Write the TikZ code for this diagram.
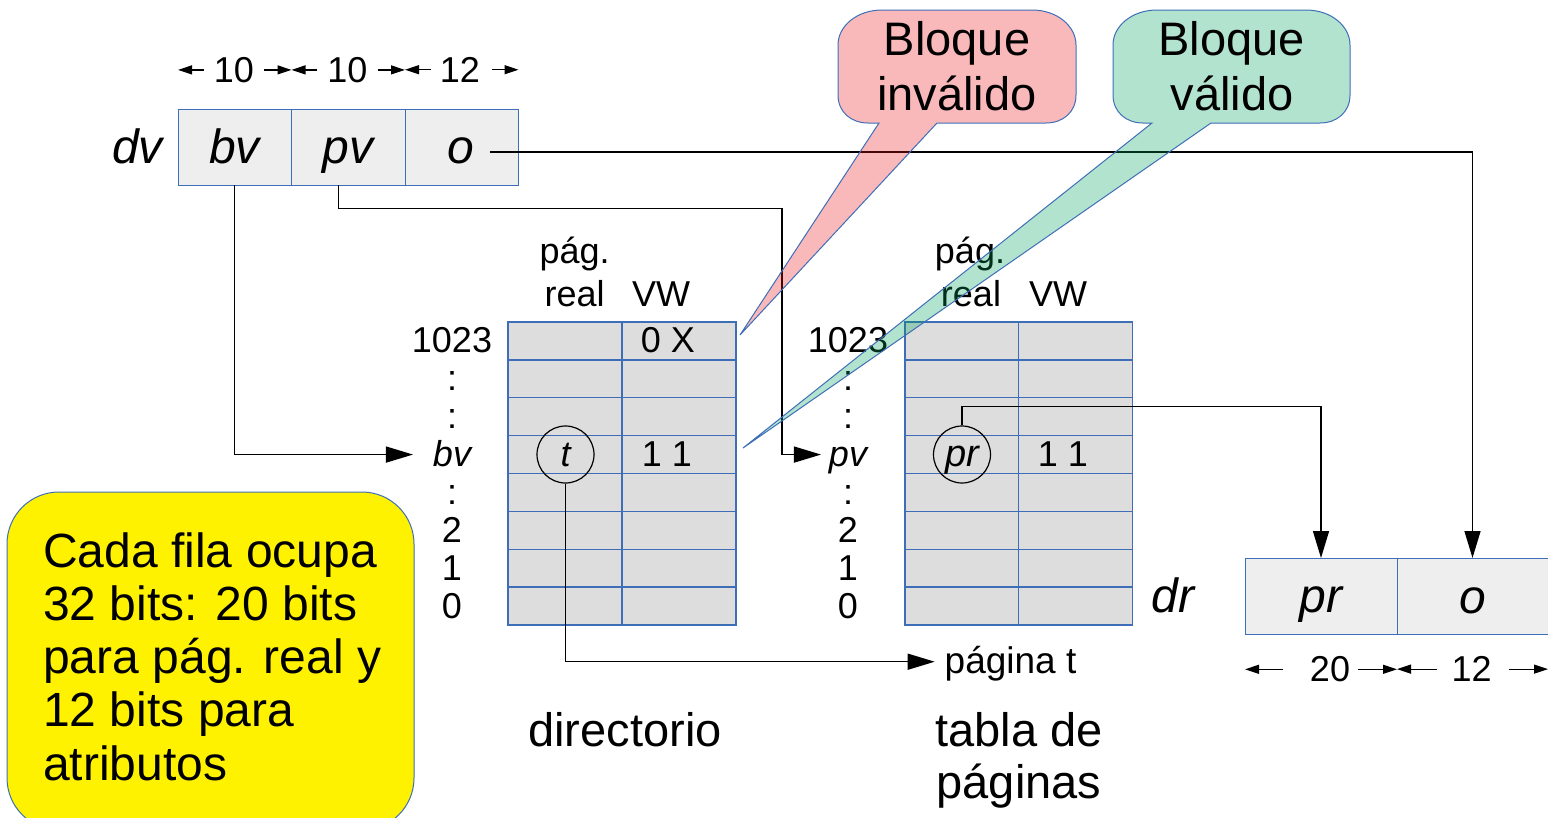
\documentclass[tikz,border=0pt]{standalone}
\usepackage{fontspec}
\setmainfont{Liberation Sans}
\usetikzlibrary{arrows.meta}

\definecolor{frame}{RGB}{62,110,183}
\definecolor{cellgray}{RGB}{221,221,221}
\definecolor{boxgray}{RGB}{238,238,238}
\definecolor{notered}{RGB}{235,22,28}
\definecolor{notegreen}{RGB}{0,162,92}
\definecolor{noteyellow}{RGB}{255,242,0}

\tikzset{
  txt/.style={inner sep=0pt, outer sep=0pt},
  fA/.style={font=\fontsize{36pt}{40pt}\selectfont},
  itA/.style={font=\fontsize{36pt}{40pt}\selectfont\itshape},
  fC/.style={font=\fontsize{47pt}{53pt}\selectfont},
  fN/.style={font=\fontsize{48pt}{53pt}\selectfont},
  itC/.style={font=\fontsize{48pt}{53pt}\selectfont\itshape},
  rowlbl/.style={txt, fA, text height=26pt, text depth=2pt},
  dvcell/.style={draw=frame, line width=1pt, fill=boxgray, minimum width=113.5pt,
                 minimum height=76pt, inner sep=0pt, outer sep=0pt},
  cell/.style={draw=frame, line width=1.3pt, fill=cellgray, minimum width=114pt,
               minimum height=37.875pt, inner sep=0pt, outer sep=0pt},
  circ/.style={circle, draw=black, line width=1.2pt, minimum size=57pt, inner sep=0pt,
               text height=26pt, text depth=2pt},
  conn/.style={line width=1.4pt, -{Triangle[length=27pt,width=16pt]}},
  dimarr/.style={line width=1.2pt, -{Triangle[length=14pt,width=9pt]}},
  callout/.style={draw=frame, line width=1pt, fill opacity=0.3},
}

\begin{document}
\begin{tikzpicture}[x=1pt, y=-1pt]
\useasboundingbox (0,0) rectangle (1548,817);
\clip (0,0) rectangle (1548,817);

% ---------- virtual address dv = bv | pv | o ----------
\node[dvcell] (bv) at (234.75,147) {};
\node[dvcell] (pv) at (348.25,147) {};
\node[dvcell] (o)  at (461.75,147) {};
\node[txt, itC, anchor=base] (bv-t) at (234.5,163) {bv};
\node[txt, itC, anchor=base] (pv-t) at (348,163) {pv};
\node[txt, itC, anchor=base] (o-t)  at (461,163) {o};
\node[txt, itC, anchor=base] (dv)   at (137.5,163) {dv};

% field widths
\node[txt, fA, anchor=base] (w1) at (234,82.3) {10};
\node[txt, fA, anchor=base] (w2) at (347.5,82.3) {10};
\node[txt, fA, anchor=base] (w3) at (460,82.3) {12};
\draw[dimarr, shorten <=10pt] (w1.west) -- (w1.west -| bv.west);
\draw[dimarr, shorten <=10pt] (w1.east) -- (w1.east -| bv.east);
\draw[dimarr, shorten <=10pt] (w2.west) -- (w2.west -| pv.west);
\draw[dimarr, shorten <=10pt] (w2.east) -- (w2.east -| pv.east);
\draw[dimarr, shorten <=9pt]  (w3.west) -- (w3.west -| o.west);
\draw[dimarr, shorten <=12pt] (w3.east) -- (w3.east -| o.east);

% ---------- directory and page table ----------
\foreach \r in {0,...,7} {
  \pgfmathsetmacro\yy{340.94+37.875*\r}
  \node[cell] (d-\r-0) at (565,\yy) {};
  \node[cell] (d-\r-1) at (679,\yy) {};
  \node[cell] (p-\r-0) at (962,\yy) {};
  \node[cell, minimum width=113.5pt] (p-\r-1) at (1075.5,\yy) {};
}

% row numbers
\foreach \r/\t in {0/1023,1/:,2/:,4/:,5/2,6/1,7/0} {
  \node[rowlbl] (dl-\r) at (452,{340.94+37.875*\r}) {\t};
  \node[rowlbl] (pl-\r) at (848,{340.94+37.875*\r}) {\t};
}
\node[rowlbl, itA] (dl-3) at (452,454.56) {bv};
\node[rowlbl, itA] (pl-3) at (848,454.56) {pv};

% column headings
\node[txt, fA, anchor=base] (dh1) at (574.6,263.5) {pág.};
\node[txt, fA, anchor=base] (dh2) at (574.6,306) {real};
\node[txt, fA, anchor=base] (dh3) at (661,306) {VW};
\node[txt, fA, anchor=base] (ph1) at (970,263.5) {pág.};
\node[txt, fA, anchor=base] (ph2) at (971,306) {real};
\node[txt, fA, anchor=base] (ph3) at (1058,306) {VW};

% entry contents
\node[rowlbl] (dx0) at (668,340.94) {0 X};
\node[rowlbl] (dx3) at (667,454.56) {1 1};
\node[rowlbl] (px3) at (1063,454.56) {1 1};
\node[circ, itA] (tc)  at (565.5,454.5) {t};
\node[circ, font=\fontsize{38pt}{40pt}\selectfont\itshape] (prc) at (962,454.5) {pr};

\node[txt, fC, anchor=base] (dirlbl) at (625,746.7) {directorio};
\node[txt, fC, anchor=base] (tbl1) at (1019,746.7) {tabla de};
\node[txt, fC, anchor=base] (tbl2) at (1019,798.7) {páginas};
\node[txt, font=\fontsize{37pt}{40pt}\selectfont, anchor=west,
      text height=26pt, text depth=3pt] (pagt) at (944.7,661.7) {página t};

% ---------- real address dr = pr | o ----------
\node[dvcell, minimum width=152pt] (drpr) at (1321,596) {};
\node[dvcell, minimum width=151pt] (dro)  at (1472.5,596) {};
\node[txt, itC, anchor=base] (drpr-t) at (1321,612) {pr};
\node[txt, itC, anchor=base] (dro-t)  at (1472.5,613) {o};
\node[txt, itC, anchor=base] (dr)     at (1173,612) {dr};

\node[txt, fA, anchor=base] (w4) at (1330,681.7) {20};
\node[txt, fA, anchor=base] (w5) at (1471.7,681.7) {12};
\draw[dimarr, shorten <=27pt] (w4.west) -- (w4.west -| drpr.west);
\draw[dimarr, shorten <=8pt]  (w4.east) -- (w4.east -| drpr.east);
\draw[dimarr, shorten <=15pt] (w5.west) -- (w5.west -| dro.west);
\draw[dimarr, shorten <=17pt] (w5.east) -- (w5.east -| dro.east);

% ---------- translation paths ----------
\coordinate (pvdown) at (338.5,185);
\coordinate (pvturn) at (782,208.3);
\coordinate (ostart) at (490,152);
\draw[conn, shorten >=20pt] (bv.south) |- (dl-3.west);
\draw[conn, shorten >=8pt] (pvdown) |- (pvturn) |- (pl-3.west);
\draw[conn] (ostart) -| (dro.north);
\draw[conn] (prc.north) -- ++(0,-19) -| (drpr.north);
\draw[conn, shorten >=10pt] (tc.south) |- (pagt.west);

% ---------- note on the entry size ----------
\draw[draw=frame, line width=1pt, fill=noteyellow, rounded corners=52pt]
  (7,492) rectangle (414,830);
\foreach \i/\t in {0/Cada fila ocupa, 1/32 bits: 20 bits, 2/para pág. real y,
                   3/12 bits para, 4/atributos}
  \node[txt, fN, anchor=base west] (note-\i) at (43.3,{567.3+53.2*\i}) {\t};

% ---------- callouts ----------
\coordinate (tipA) at (740,335);
\coordinate (tipB) at (743,448);
\draw[callout, fill=notered]
  (879,123) -- (868,123) .. controls (851,123) and (838,112) .. (838,95)
  -- (838,45) .. controls (838,26) and (857,10) .. (882,10)
  -- (1032,10) .. controls (1057,10) and (1076,26) .. (1076,45)
  -- (1076,95) .. controls (1076,112) and (1063,123) .. (1046,123)
  -- (937,123) -- (tipA) -- cycle;
\draw[callout, fill=notegreen]
  (1152,123) -- (1143,123) .. controls (1126,123) and (1113,112) .. (1113,95)
  -- (1113,45) .. controls (1113,26) and (1132,10) .. (1157,10)
  -- (1306,10) .. controls (1331,10) and (1350,26) .. (1350,45)
  -- (1350,95) .. controls (1350,112) and (1337,123) .. (1320,123)
  -- (1211,123) -- (tipB) -- cycle;
\node[txt, fC, anchor=base] (ca1) at (957,55.5) {Bloque};
\node[txt, fC, anchor=base] (ca2) at (957,110.5) {inválido};
\node[txt, fC, anchor=base] (cb1) at (1231.5,55.5) {Bloque};
\node[txt, fC, anchor=base] (cb2) at (1232,110.5) {válido};
\end{tikzpicture}
\end{document}
